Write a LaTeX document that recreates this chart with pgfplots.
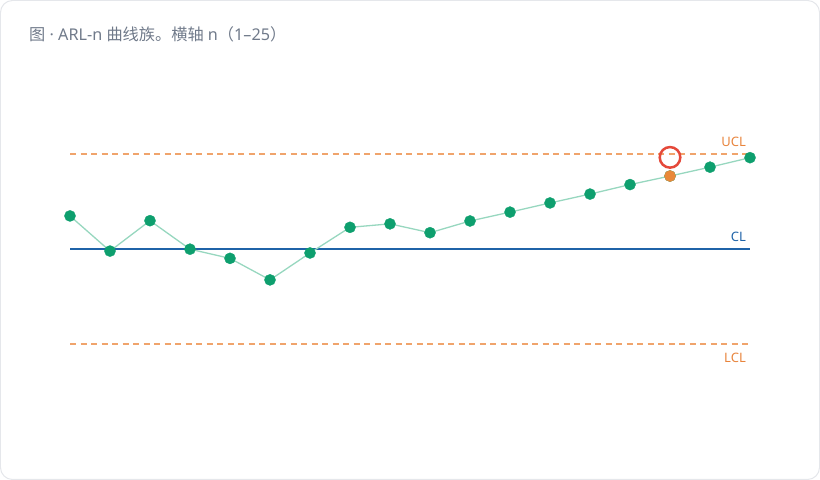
\documentclass[border=0pt]{standalone}
\usepackage{fontspec}
\setmainfont{Noto Sans}
\newfontfamily\cjk{Noto Sans CJK SC}
\usepackage{pgfplots}
\pgfplotsset{compat=1.18}

\definecolor{framegray}{HTML}{E5E7EB}
\definecolor{titlegray}{HTML}{707A8A}
\definecolor{dotgreen}{HTML}{0E9F6E}
\definecolor{linegreen}{HTML}{97D7BF}
\definecolor{clblue}{HTML}{1F63A8}
\definecolor{limorange}{HTML}{F0A46C}
\definecolor{labelorange}{HTML}{E8843C}
\definecolor{hitorange}{HTML}{E9893A}
\definecolor{ringred}{HTML}{E5493A}

\begin{document}
\begin{tikzpicture}[x=1bp,y=1bp]
\draw[framegray, line width=1bp, rounded corners=12bp] (0.5,0.5) rectangle (819.5,479.5);
\node[anchor=west, text=titlegray, inner sep=0pt,
      font=\fontsize{16.2bp}{19bp}\selectfont] at (29,445.5)
      {{\cjk 图} · ARL-n {\cjk 曲线族。横轴} n{\cjk （}1–25{\cjk ）}};
\begin{axis}[
    at={(70bp,135.5bp)}, anchor=south west,
    scale only axis,
    width=680bp, height=190bp,
    xmin=1, xmax=18,
    ymin=-3, ymax=3,
    axis lines=none,
    clip=false,
]
% control limits
\addplot[limorange, line width=2bp, dash pattern=on 6bp off 4.5bp] coordinates {(1,3)(18,3)};
\addplot[limorange, line width=2bp, dash pattern=on 6bp off 4.5bp] coordinates {(1,-3)(18,-3)};
\addplot[clblue, line width=2bp] coordinates {(1,0)(18,0)};

% ARL-n series
\addplot[linegreen, line width=1.3bp, mark=*, mark size=5.6bp,
         mark options={draw=dotgreen, fill=dotgreen, line width=0.3bp}]
    coordinates {
        (1,1.06)(2,-0.05)(3,0.91)(4,0.01)(5,-0.28)(6,-0.96)(7,-0.11)(8,0.70)
        (9,0.81)(10,0.53)(11,0.90)(12,1.18)(13,1.47)(14,1.75)(15,2.05)
        (16,2.32)(17,2.60)(18,2.90)
    };
\addplot[only marks, mark=*, mark size=5.6bp,
         mark options={draw=hitorange, fill=hitorange, line width=0.3bp}]
    coordinates {(16,2.32)};
\addplot[only marks, mark=o, mark size=10.3bp,
         mark options={draw=ringred, line width=2.5bp}]
    coordinates {(16,2.91)};

\node[anchor=east, inner sep=0pt, text=labelorange, font=\fontsize{13bp}{15bp}\selectfont]
    at (axis cs:17.9,3.39) {UCL};
\node[anchor=east, inner sep=0pt, text=clblue, font=\fontsize{13bp}{15bp}\selectfont]
    at (axis cs:17.9,0.39) {CL};
\node[anchor=east, inner sep=0pt, text=labelorange, font=\fontsize{13bp}{15bp}\selectfont]
    at (axis cs:17.9,-3.43) {LCL};
\end{axis}
\end{tikzpicture}
\end{document}
